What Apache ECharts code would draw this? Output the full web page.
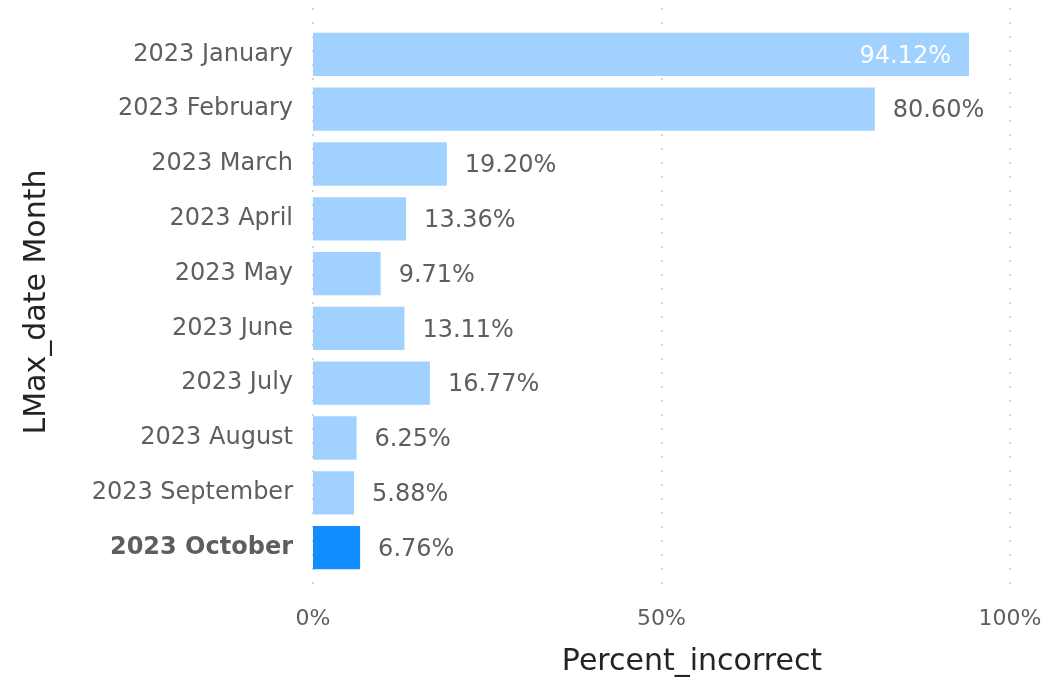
<!DOCTYPE html>
<html lang="en" style="height: 100%">
<head>
    <meta charset="UTF-8">
    <title>Percent incorrect</title>
    <script src="https://cdn.jsdelivr.net/npm/echarts@6/dist/echarts.min.js"></script>
</head>
<body style="height: 100%; margin: 0; background: #fff">
    <div id="container" style="height: 100%"></div>
    <script type="text/javascript">
    var months = ['2023 January', '2023 February', '2023 March', '2023 April', '2023 May',
        '2023 June', '2023 July', '2023 August', '2023 September', '2023 October'];
    var percentIncorrect = [94.12, 80.60, 19.20, 13.36, 9.71, 13.11, 16.77, 6.25, 5.88, 6.76];
    var xTicks = [0, 50, 100];
    var selectedMonth = '2023 October';

    var font = '"DejaVu Sans", "Open Sans", sans-serif';
    var myChart = echarts.init(document.getElementById('container'));

    var option = {
        animation: false,
        textStyle: { fontFamily: font },
        grid: [{
            left: 313, right: 41, top: 27, height: 548
        }, {
            left: 313, right: 41, top: 8, bottom: 88
        }],
        xAxis: [{
            type: 'value', min: 0, max: 100,
            axisLine: { show: false }, axisTick: { show: false },
            axisLabel: { show: false }, splitLine: { show: false }
        }, {
            type: 'value', gridIndex: 1, min: 0, max: 100, interval: 50,
            axisLine: { show: false }, axisTick: { show: false },
            axisLabel: {
                margin: 16, fontSize: 22, color: '#605E5C', fontFamily: font,
                formatter: function (v) { return xTicks.indexOf(v) >= 0 ? v + '%' : ''; }
            },
            splitLine: { lineStyle: { type: [2, 12], color: '#C8C6C4', width: 1.5 } }
        }],
        yAxis: [{
            type: 'category', data: months, inverse: true,
            axisLine: { show: false }, axisTick: { show: false },
            axisLabel: {
                margin: 20, fontSize: 24, color: '#605E5C', fontFamily: font,
                formatter: function (v) { return v === selectedMonth ? '{b|' + v + '}' : v; },
                rich: { b: { fontWeight: 'bold', fontSize: 24, color: '#605E5C', fontFamily: font } }
            }
        }, {
            type: 'category', gridIndex: 1, data: [''], show: false
        }],
        series: [{
            type: 'bar',
            barCategoryGap: '21%',
            data: percentIncorrect.map(function (v, i) {
                var item = {
                    value: v,
                    itemStyle: { color: months[i] === selectedMonth ? '#118DFF' : '#A0D1FF' }
                };
                if (v > 90) {
                    item.label = { position: 'insideRight', color: '#ffffff', distance: 18 };
                }
                return item;
            }),
            label: {
                show: true, position: 'right', distance: 18, offset: [0, 2],
                fontSize: 24, color: '#605E5C', fontFamily: font,
                formatter: function (p) { return p.value.toFixed(2) + '%'; }
            }
        }],
        graphic: [{
            type: 'text', x: 692, y: 662,
            style: {
                text: 'Percent_incorrect', fill: '#252423', font: '30px ' + font,
                textAlign: 'center', textVerticalAlign: 'middle'
            }
        }, {
            type: 'text', x: 37, y: 302, rotation: Math.PI / 2,
            style: {
                text: 'LMax_date Month', fill: '#252423', font: '30px ' + font,
                textAlign: 'center', textVerticalAlign: 'middle'
            }
        }]
    };

    myChart.setOption(option);
    </script>
</body>
</html>
